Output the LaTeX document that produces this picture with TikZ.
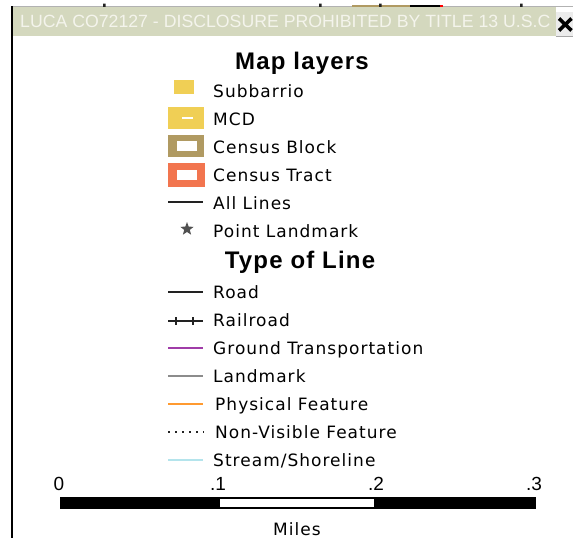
\documentclass[tikz,border=0pt]{standalone}
\usepackage{fontspec}
\usetikzlibrary{shapes.geometric}
\newfontfamily\barfont{Liberation Sans}
\newfontfamily\headfont{Liberation Sans}[LetterSpace=5]
\newfontfamily\legendfont{DejaVu Sans}[LetterSpace=6]
\definecolor{titlebg}{HTML}{D4D8BE}
\definecolor{titletext}{HTML}{F4F4EC}
\definecolor{mapyellow}{HTML}{F0CF55}
\definecolor{blocktan}{HTML}{B09A62}
\definecolor{tractred}{HTML}{F2754F}
\definecolor{linedark}{HTML}{222222}
\definecolor{groundpurple}{HTML}{A03CA8}
\definecolor{markgray}{HTML}{8C8C8C}
\definecolor{physorange}{HTML}{FF9A30}
\definecolor{streamblue}{HTML}{B4E4EC}
\definecolor{stargray}{HTML}{505050}

\begin{document}
\begin{tikzpicture}[x=1pt,y=-1pt,
  entry/.style={font={\legendfont\fontsize{17}{20}\selectfont}, anchor=base west, inner sep=0pt},
  heading/.style={font={\headfont\bfseries\fontsize{24}{28}\selectfont}, anchor=base, inner sep=0pt},
  scalelabel/.style={font={\barfont\fontsize{19}{22}\selectfont}, anchor=base, inner sep=0pt},
  sample/.style={line width=1.8pt}]
\useasboundingbox (0,0) rectangle (573,538);
\fill[white] (0,0) rectangle (573,538);

% map showing above the window
\draw[gray!60, line width=1pt] (12,6) -- (573,6);
\draw[line width=2pt, blocktan] (352,5.5) -- (410,5.5);
\draw[line width=2pt, black] (410,5.5) -- (440,5.5);
\draw[line width=2pt, red] (440,5.5) -- (443,5.5);
\fill[linedark] (103,3.5) rectangle (105.5,7) (319,3.5) rectangle (321.5,7)
  (379,3.5) rectangle (381.5,7) (520,3.5) rectangle (522.5,7);

% title bar
\fill[titlebg] (12,7) rectangle (556,36);
\node[anchor=base west, inner sep=0pt, text=titletext,
  font={\barfont\fontsize{17.7}{20}\selectfont}] (banner) at (20,27.3)
  {LUCA CO72127 - DISCLOSURE PROHIBITED BY TITLE 13 U.S.C};
\fill[gray!15] (555.5,11.5) rectangle (573,37);
\draw[gray!70, line width=1pt] (555.5,36.5) -- (573,36.5);
\draw[black, line width=3.6pt] (559,18.5) -- (571.5,30.5) (559,30.5) -- (571.5,18.5);
\draw[black, line width=2pt] (12,6) -- (12,538);

% map layers
\node[heading] (layers) at (302,69.5) {Map layers};
\fill[mapyellow] (174,80) rectangle (194,94);
\node[entry] (sub) at (213,97) {Subbarrio};
\fill[mapyellow] (168,107) rectangle (204,129);
\draw[white, line width=1.6pt] (182,118) -- (193,118);
\node[entry] (mcd) at (213,125) {MCD};
\fill[blocktan] (168,135) rectangle (204,157);
\fill[white] (177,141) rectangle (197,151);
\node[entry] (block) at (213,153) {Census Block};
\fill[tractred] (168,163) rectangle (205,187);
\fill[white] (177,170) rectangle (197,179.5);
\node[entry] (tract) at (213,181) {Census Tract};
\draw[sample, linedark] (168,202) -- (203,202);
\node[entry] (all) at (213,209) {All Lines};
\node[star, star points=5, star point ratio=2.4, fill=stargray, minimum size=14pt,
  inner sep=0pt] (pointmark) at (187,229) {};
\node[entry] (point) at (213,237) {Point Landmark};

% type of line
\node[heading] (types) at (300,268) {Type of Line};
\draw[sample, linedark] (168,292) -- (203,292);
\node[entry] (road) at (213,298.5) {Road};
\draw[line width=1.4pt, linedark] (168,321) -- (203,321);
\draw[line width=1.2pt, linedark] (176,317) -- (176,325) (193,317) -- (193,325);
\node[entry] (rail) at (213,326.5) {Railroad};
\draw[sample, groundpurple] (168,348) -- (203,348);
\node[entry] (ground) at (213,354.5) {Ground Transportation};
\draw[sample, markgray] (168,376) -- (203,376);
\node[entry] (landmark) at (213,382.5) {Landmark};
\draw[sample, physorange] (168,404) -- (203,404);
\node[entry] (physical) at (215,410.5) {Physical Feature};
\draw[line width=1.5pt, linedark, dash pattern=on 1.5pt off 5.5pt] (168,432) -- (204,432);
\node[entry] (nonvis) at (215,438.5) {Non-Visible Feature};
\draw[sample, streamblue] (168,460) -- (203,460);
\node[entry] (stream) at (213,466.5) {Stream/Shoreline};

% scale bar
\fill[black] (60,497) rectangle (536,509);
\fill[white] (220,499.3) rectangle (374,506.7);
\node[scalelabel] (zero) at (59,490.7) {0};
\node[scalelabel] (one) at (218,490.7) {.1};
\node[scalelabel] (two) at (376,490.7) {.2};
\node[scalelabel] (three) at (534,490.7) {.3};
\node[entry, anchor=base] (miles) at (297,535) {Miles};
\end{tikzpicture}
\end{document}
